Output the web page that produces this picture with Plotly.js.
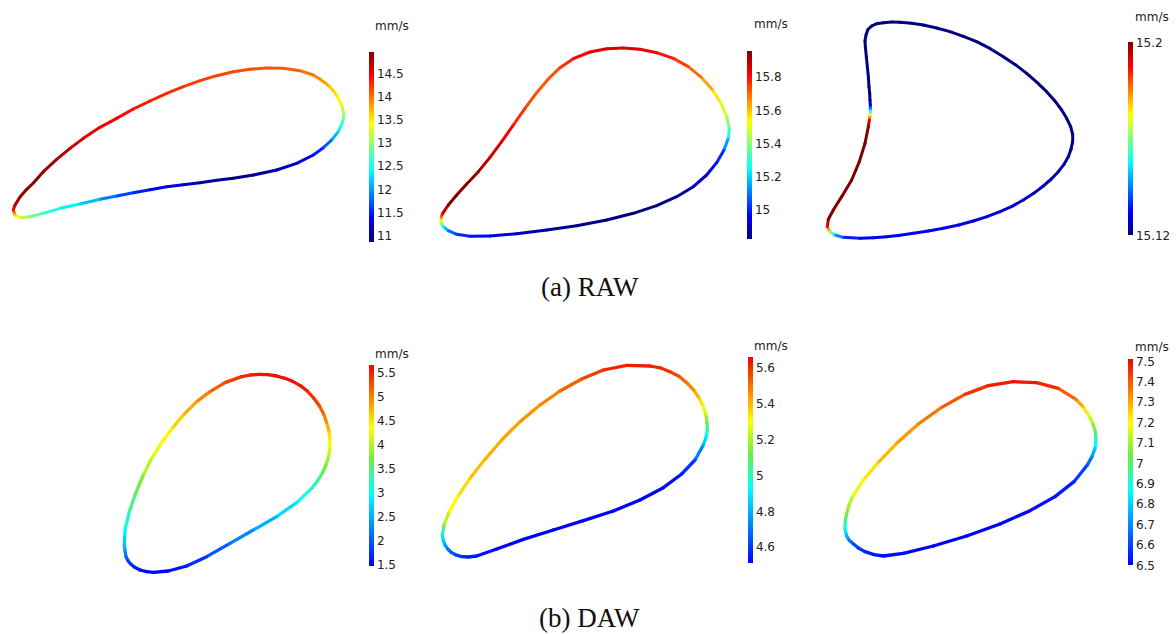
<!DOCTYPE html>
<html>
<head>
<meta charset="utf-8">
<script src="https://cdn.plot.ly/plotly-3.0.1.min.js"></script>
<style>html,body{margin:0;padding:0;background:#fff;}#chart{width:1176px;height:634px;}</style>
</head>
<body>
<div id="chart"></div>
<script>
// ---- Data (contour coordinates in panel units, speed in mm/s) ----
// (a) RAW, panel 1
const raw1X = [40,45,60,80,100,130,170,210,250,300,350,400,450,500,550,600,650,700,750,800,850,900,940,958,975,988,1000,1011,1020,1026,1030,1031,1028,1022,1015,995,970,940,890,830,760,700,650,600,550,500,450,400,350,300,240,180,130,90,60,45];
const raw1Y = [510,495,471,448,429,395,358,325,295,262,235,207,183,160,140,122,107,95,88,84,85,92,105,116,128,139,152,168,185,200,215,230,245,260,275,300,323,345,370,390,405,415,421,428,434,440,449,458,468,478,492,505,520,530,533,525];
const raw1V = [14.4,14.7,14.9,14.92,14.92,14.9,14.8,14.7,14.6,14.5,14.45,14.4,14.35,14.3,14.25,14.2,14.2,14.15,14.15,14.1,14.1,14.05,13.95,13.88,13.8,13.7,13.6,13.5,13.4,13.25,13.1,12.9,12.7,12.5,12.3,11.9,11.6,11.4,11.2,11.05,10.95,10.93,10.95,11.05,11.15,11.25,11.4,11.55,11.75,12.0,12.3,12.45,12.65,12.95,13.3,13.6];
// (a) RAW, panel 2
const raw2X = [63,64,68,85,110,140,175,210,245,280,315,350,385,420,460,510,560,610,660,710,760,805,845,878,903,920,928,925,912,890,860,820,770,710,640,560,470,380,290,210,150,110,85,70,65];
const raw2Y = [572,561,550,525,495,462,425,382,335,285,235,188,147,113,86,66,56,54,58,68,85,110,143,180,220,260,295,325,360,398,435,470,500,527,550,570,587,600,611,618,619,613,602,590,582];
const raw2V = [15.5,15.7,15.85,15.95,15.96,15.95,15.93,15.88,15.85,15.8,15.75,15.72,15.72,15.75,15.8,15.84,15.86,15.86,15.85,15.82,15.78,15.73,15.67,15.6,15.52,15.45,15.35,15.22,15.05,14.97,14.92,14.88,14.85,14.83,14.83,14.83,14.84,14.86,14.9,14.95,15.0,15.03,15.1,15.25,15.38];
// (a) RAW, panel 3
const raw3X = [82,85,100,125,155,178,195,205,208,210,211,211,211,210,209,207,205,202,199,196,195,198,204,215,230,250,275,300,335,370,410,450,490,530,571,610,646,680,711,740,764,785,800,812,818,818,813,805,792,775,754,730,701,670,636,600,561,520,476,430,385,340,300,260,220,180,130,105,90];
const raw3Y = [650,628,600,560,510,455,400,350,330,315,305,295,285,270,250,230,200,170,140,110,92,75,58,48,41,38,36,37,40,45,54,65,79,95,116,140,164,190,217,245,272,300,325,350,373,395,418,440,463,485,507,528,550,570,589,605,620,633,645,655,663,670,676,680,683,685,682,675,665];
const raw3V = [15.19,15.2,15.2,15.2,15.2,15.2,15.2,15.2,15.19,15.17,15.155,15.14,15.128,15.12,15.12,15.12,15.12,15.12,15.12,15.12,15.12,15.12,15.12,15.12,15.12,15.12,15.12,15.12,15.12,15.12,15.12,15.12,15.12,15.12,15.12,15.12,15.12,15.12,15.12,15.12,15.12,15.12,15.12,15.12,15.12,15.121,15.121,15.122,15.122,15.123,15.124,15.124,15.125,15.126,15.126,15.127,15.127,15.128,15.128,15.129,15.129,15.13,15.13,15.13,15.13,15.13,15.135,15.145,15.165];
// (b) DAW, panel 4
const daw1X = [73,74,76,88,107,130,155,185,218,252,290,330,375,425,451,478,504,530,555,578,601,622,641,658,671,680,687,690,689,686,678,668,653,635,590,530,460,390,320,260,205,160,140,120,104,92,84,78,75];
const daw1Y = [555,530,505,455,400,345,295,248,203,163,125,95,68,50,45,43,44,48,55,64,77,93,114,137,162,188,214,240,265,290,314,338,362,385,428,470,510,550,590,618,633,637,635,630,622,612,602,590,572];
const daw1V = [2.6,2.8,3.0,3.3,3.6,3.9,4.15,4.35,4.5,4.7,4.9,5.1,5.3,5.45,5.5,5.55,5.58,5.6,5.6,5.6,5.55,5.5,5.4,5.3,5.1,4.9,4.65,4.4,4.2,4.0,3.8,3.6,3.4,3.2,2.9,2.65,2.4,2.15,1.85,1.65,1.52,1.5,1.52,1.55,1.65,1.75,1.9,2.1,2.35];
// (b) DAW, panel 5
const daw2X = [67,72,88,115,150,195,245,300,360,420,485,550,620,690,722,750,777,800,821,838,850,858,861,862,858,850,825,785,730,660,580,490,400,310,230,170,145,125,108,95,84,75,70];
const daw2Y = [555,525,485,437,385,328,270,215,165,123,87,60,46,48,54,65,79,98,120,145,170,195,218,240,263,285,330,372,413,450,483,512,540,568,597,618,621,620,615,608,598,585,572];
const daw2V = [4.9,5.15,5.28,5.33,5.38,5.4,5.42,5.44,5.46,5.5,5.55,5.6,5.62,5.62,5.61,5.58,5.55,5.5,5.45,5.38,5.3,5.22,5.12,5.0,4.9,4.8,4.63,4.55,4.52,4.51,4.51,4.51,4.51,4.51,4.52,4.55,4.56,4.58,4.61,4.65,4.7,4.78,4.84];
// (b) DAW, panel 6
const daw3X = [135,136,140,147,158,190,235,290,355,425,495,565,640,710,775,828,849,866,878,886,888,885,876,862,822,765,690,600,500,400,310,250,222,195,175,158,147,140,137];
const daw3Y = [535,512,490,465,440,390,337,280,222,172,133,107,95,98,115,148,170,195,220,245,270,295,320,345,395,440,482,522,558,588,610,618,614,605,594,580,570,558,547];
const daw3V = [6.88,6.97,7.05,7.1,7.15,7.2,7.26,7.3,7.34,7.38,7.43,7.47,7.49,7.48,7.44,7.35,7.27,7.18,7.1,7.02,6.92,6.8,6.7,6.62,6.55,6.52,6.51,6.5,6.5,6.5,6.51,6.52,6.53,6.55,6.58,6.62,6.68,6.75,6.82];

// colour-bar ranges and ticks
const cbMin = [10.87, 14.825, 15.12, 1.48, 4.51, 6.5];
const cbMax = [14.96, 15.96, 15.2, 5.67, 5.66, 7.51];
const cbTicks = [
  [11,11.5,12,12.5,13,13.5,14,14.5],
  [15,15.2,15.4,15.6,15.8],
  [15.12,15.2],
  [1.5,2,2.5,3,3.5,4,4.5,5,5.5],
  [4.6,4.8,5,5.2,5.4,5.6],
  [6.5,6.6,6.7,6.8,6.9,7,7.1,7.2,7.3,7.4,7.5]
];
const cbTickText = [
  ["11","11.5","12","12.5","13","13.5","14","14.5"],
  ["15","15.2","15.4","15.6","15.8"],
  ["15.12","15.2"],
  ["1.5","2","2.5","3","3.5","4","4.5","5","5.5"],
  ["4.6","4.8","5","5.2","5.4","5.6"],
  ["6.5","6.6","6.7","6.8","6.9","7","7.1","7.2","7.3","7.4","7.5"]
];
const unitLabel = "mm/s";
const captions = ["(a) RAW", "(b) DAW"];

// ---- styling / layout ----
const W = 1176, H = 634;
const jet = [[0,'rgb(0,0,128)'],[0.125,'rgb(0,0,255)'],[0.375,'rgb(0,255,255)'],[0.625,'rgb(255,255,0)'],[0.875,'rgb(255,0,0)'],[1,'rgb(128,0,0)']];
const rainbow = [[0,'rgb(0,0,255)'],[0.36,'rgb(0,255,255)'],[0.53,'rgb(110,235,70)'],[0.69,'rgb(255,255,0)'],[1,'rgb(240,0,0)']];

// panel boxes in px: [left, top, width, height]; data units are 3 per px
const panels = [[0,40,420,220],[420,30,370,220],[800,10,376,240],[100,360,320,220],[420,350,370,220],[800,350,376,220]];
const cbBox = [[369.3,52,190],[747.3,50.7,188],[1128.3,42.3,193],[369.3,365,201],[748.3,357.3,206],[1128.3,359.3,206]];
const labelPos = [[373,26],[752,24],[1133,17],[373,354],[752,346],[1133,347]];

const loops = [[raw1X,raw1Y,raw1V],[raw2X,raw2Y,raw2V],[raw3X,raw3Y,raw3V],[daw1X,daw1Y,daw1V],[daw2X,daw2Y,daw2V],[daw3X,daw3Y,daw3V]];

function parseRGB(s){ return s.match(/\d+/g).map(Number); }
function scaleColor(scale, t){
  t = Math.max(0, Math.min(1, t));
  for (let i=1;i<scale.length;i++){
    if (t <= scale[i][0]){
      const a = scale[i-1], b = scale[i];
      const f = (t - a[0])/(b[0]-a[0]);
      const ca = parseRGB(a[1]), cb = parseRGB(b[1]);
      return 'rgb(' + ca.map((c,k)=>Math.round(c + (cb[k]-c)*f)).join(',') + ')';
    }
  }
  return scale[scale.length-1][1];
}

const data = [];
const layout = {
  width: W, height: H, margin:{l:0,r:0,t:0,b:0},
  paper_bgcolor:'#fff', plot_bgcolor:'rgba(0,0,0,0)', showlegend:false,
  annotations: [], font:{family:'DejaVu Sans, sans-serif', size:12, color:'#222'}
};

loops.forEach((lp, p) => {
  const [xs, ys, vs] = lp;
  const [pl, pt, pw, ph] = panels[p];
  const ax = p === 0 ? '' : String(p+1);
  const scale = p < 3 ? jet : rainbow;
  const lw = p < 3 ? 3 : 3.3;
  layout['xaxis'+ax] = {domain:[pl/W,(pl+pw)/W], range:[0,pw*3], visible:false, fixedrange:true, anchor:'y'+ax};
  layout['yaxis'+ax] = {domain:[1-(pt+ph)/H, 1-pt/H], range:[ph*3,0], visible:false, fixedrange:true, anchor:'x'+ax};
  const n = xs.length;
  for (let i=0;i<n;i++){
    const j = (i+1)%n;
    const v = (vs[i]+vs[j])/2;
    const t = (v - cbMin[p])/(cbMax[p]-cbMin[p]);
    data.push({type:'scatter', mode:'lines', x:[xs[i],xs[j]], y:[ys[i],ys[j]],
      xaxis:'x'+ax, yaxis:'y'+ax, hoverinfo:'skip',
      line:{color:scaleColor(scale,t), width:lw}});
  }
  const [cx, cy, clen] = cbBox[p];
  data.push({type:'scatter', mode:'markers', x:xs, y:ys, xaxis:'x'+ax, yaxis:'y'+ax,
    marker:{size:lw, color:vs, colorscale:scale, cmin:cbMin[p], cmax:cbMax[p], line:{width:0},
      showscale:true,
      colorbar:{x:cx/W, xanchor:'left', y:1-cy/H, yanchor:'top', len:clen, lenmode:'pixels',
        thickness:5, thicknessmode:'pixels', xpad:0, ypad:0, outlinewidth:0,
        tickvals:cbTicks[p], ticktext:cbTickText[p], ticks:'', ticklabelpad:3,
        tickfont:{family:'DejaVu Sans, sans-serif', size:12, color:'#222'}}},
    hovertemplate:'%{marker.color} '+unitLabel+'<extra></extra>'});
  layout.annotations.push({xref:'paper', yref:'paper', x:labelPos[p][0]/W, y:1-labelPos[p][1]/H,
    xanchor:'left', yanchor:'middle', showarrow:false, text:unitLabel,
    font:{family:'DejaVu Sans, sans-serif', size:12, color:'#222'}});
});

layout.annotations.push({xref:'paper', yref:'paper', x:590/W, y:1-287/H, xanchor:'center', yanchor:'middle',
  showarrow:false, text:captions[0], font:{family:'Liberation Serif, serif', size:27, color:'#111'}});
layout.annotations.push({xref:'paper', yref:'paper', x:590/W, y:1-618/H, xanchor:'center', yanchor:'middle',
  showarrow:false, text:captions[1], font:{family:'Liberation Serif, serif', size:27, color:'#111'}});

Plotly.newPlot('chart', data, layout, {displayModeBar:false, staticPlot:true});
</script>
</body>
</html>
